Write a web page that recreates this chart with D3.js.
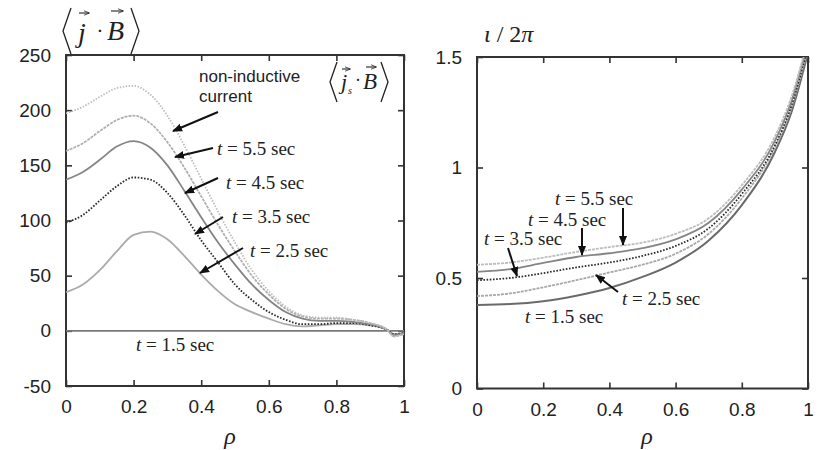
<!DOCTYPE html>
<html><head><meta charset="utf-8">
<script src="https://cdn.jsdelivr.net/npm/d3@7"></script>
<style>
body{margin:0;background:#fff;}
text{fill:#222;}
.tick text{font-family:"Liberation Sans",Arial,sans-serif;font-size:19px;}
.ser{font-family:"Liberation Serif","Times New Roman",serif;}
</style></head><body>
<svg id="c" width="827" height="450"></svg>
<script>
// ---------- data ----------
const rhoL = [0,0.05,0.1,0.15,0.2,0.25,0.3,0.35,0.4,0.45,0.5,0.55,0.6,0.65,0.7,0.75,0.8,0.85,0.9,0.95,0.97,1.0];
const jbNonInd = [197,203,212,220,222,214,195,168,138,108,80,55,36,22,14,12,12,10,7,1,-5,-3];
const jb55 = [163,170,181,191,195,188,171,148,122,96,72,50,33,20,13,11,11,10,7,1,-5,-3];
const jb45 = [137,144,155,167,172,166,150,127,103,80,60,42,28,17,11,9,9,8,6,1,-4,-2];
const jb35 = [98,105,118,131,139,137,125,105,82,62,42,28,17,10,6,6,7,7,5,1,-3,-2];
const jb25 = [35,42,55,72,87,90,83,68,51,36,24,17,11,6,4,5,6,6,5,1,-3,-2];
const jb15 = [0,0,0,0,0,0,0,0,0,0,0,0,0,0,0,0,0,0,0,0,0,0];

const rhoR = [0,0.1,0.2,0.3,0.4,0.5,0.6,0.7,0.8,0.9,0.95,1.0];
const iota15 = [0.378,0.382,0.395,0.42,0.455,0.505,0.57,0.67,0.83,1.07,1.25,1.52];
const iota25 = [0.418,0.43,0.458,0.49,0.525,0.56,0.61,0.70,0.86,1.09,1.27,1.54];
const iota35 = [0.49,0.50,0.522,0.548,0.57,0.60,0.645,0.725,0.88,1.10,1.28,1.55];
const iota45 = [0.528,0.54,0.568,0.595,0.612,0.635,0.675,0.75,0.90,1.12,1.30,1.57];
const iota55 = [0.56,0.57,0.592,0.618,0.64,0.66,0.70,0.77,0.92,1.14,1.32,1.58];

const xTicks = [0,0.2,0.4,0.6,0.8,1];
const yTicksL = [-50,0,50,100,150,200,250];
const yTicksR = [0,0.5,1,1.5];
const timeLabels = ["1.5","2.5","3.5","4.5","5.5"];

// ---------- drawing ----------
const svg = d3.select("#c");
svg.append("rect").attr("width",827).attr("height",450).attr("fill","#fff");
const plain = d => String(d);

function panel(x0,x1,y0,y1,yDom,yTicks,id){
  const x = d3.scaleLinear().domain([0,1]).range([x0,x1]);
  const y = d3.scaleLinear().domain(yDom).range([y1,y0]);
  const g = svg.append("g");
  svg.append("clipPath").attr("id",id).append("rect")
     .attr("x",x0).attr("y",y0).attr("width",x1-x0).attr("height",y1-y0);
  const ax = (gen,tx,ty)=>{
    const a = g.append("g").attr("transform",`translate(${tx},${ty})`).call(gen);
    a.select(".domain").remove();
    a.selectAll(".tick line").attr("stroke","#333").attr("stroke-width",1.6);
    return a;
  };
  ax(d3.axisBottom(x).tickValues(xTicks).tickSize(-6).tickPadding(14).tickFormat(plain),0,y1);
  ax(d3.axisTop(x).tickValues(xTicks).tickSize(-6).tickFormat(""),0,y0);
  ax(d3.axisLeft(y).tickValues(yTicks).tickSize(-6).tickPadding(15).tickFormat(plain),x0,0);
  ax(d3.axisRight(y).tickValues(yTicks).tickSize(-6).tickFormat(""),x1,0);
  g.selectAll(".tick text").attr("fill","#222");
  g.append("rect").attr("x",x0).attr("y",y0).attr("width",x1-x0).attr("height",y1-y0)
   .attr("fill","none").attr("stroke","#333").attr("stroke-width",2);
  return {x,y,g,clip:`url(#${id})`};
}

const L = panel(66,404,55,386,[-50,250],yTicksL,"clipL");
const R = panel(477,808,57,388.5,[0,1.5],yTicksR,"clipR");

function drawLine(P,xs,ys,color,dash,w){
  const line = d3.line().x(d=>P.x(d[0])).y(d=>P.y(d[1])).curve(d3.curveMonotoneX);
  svg.append("path").datum(xs.map((v,i)=>[v,ys[i]])).attr("d",line)
    .attr("fill","none").attr("stroke",color).attr("stroke-width",w||1.8)
    .attr("stroke-dasharray",dash||null).attr("clip-path",P.clip);
}
// left panel
drawLine(L,rhoL,jb15,"#7a7a7a",null,1.8);
drawLine(L,rhoL,jb25,"#ababab",null,1.8);
drawLine(L,rhoL,jb35,"#2a2a2a","1.6,1.6",1.8);
drawLine(L,rhoL,jb45,"#858585",null,1.8);
drawLine(L,rhoL,jb55,"#b0b0b0","3,1",1.8);
drawLine(L,rhoL,jbNonInd,"#bdbdbd","1.5,1.5",1.8);
// right panel
drawLine(R,rhoR,iota15,"#6a6a6a",null,2);
drawLine(R,rhoR,iota25,"#a8a8a8","3,1",1.8);
drawLine(R,rhoR,iota35,"#2a2a2a","1.6,1.6",1.8);
drawLine(R,rhoR,iota45,"#858585",null,1.8);
drawLine(R,rhoR,iota55,"#bdbdbd","3,1",1.8);

// arrows
const defs = svg.append("defs");
defs.append("marker").attr("id","ah").attr("viewBox","0 0 10 10").attr("refX",9).attr("refY",5)
  .attr("markerWidth",5).attr("markerHeight",5).attr("orient","auto")
  .append("path").attr("d","M0,1 L10,5 L0,9 z").attr("fill","#111");
defs.append("marker").attr("id","vh").attr("viewBox","0 0 10 10").attr("refX",9).attr("refY",5)
  .attr("markerWidth",5).attr("markerHeight",5).attr("orient","auto")
  .append("path").attr("d","M0,1 L10,5 L0,9").attr("fill","none").attr("stroke","#222").attr("stroke-width",1.4);
function arrow(x1,y1,x2,y2){
  svg.append("line").attr("x1",x1).attr("y1",y1).attr("x2",x2).attr("y2",y2)
    .attr("stroke","#111").attr("stroke-width",2).attr("marker-end","url(#ah)");
}
function vecArrow(x,y,w){
  svg.append("line").attr("x1",x).attr("y1",y).attr("x2",x+w).attr("y2",y)
    .attr("stroke","#222").attr("stroke-width",1.1).attr("marker-end","url(#vh)");
}
function tlabel(x,y,t){
  const tx = svg.append("text").attr("class","ser").attr("x",x).attr("y",y).attr("font-size",19);
  tx.append("tspan").attr("font-style","italic").text("t");
  tx.append("tspan").text(" = " + t + " sec");
}
// left annotations
arrow(218,112,173,131);
arrow(213,148,175,157);
arrow(218,178,185,193);
arrow(223,217,195,234);
arrow(243,248,200,273);
tlabel(217,155,timeLabels[4]);
tlabel(226,189,timeLabels[3]);
tlabel(232,223,timeLabels[2]);
tlabel(250,257,timeLabels[1]);
tlabel(136,351,timeLabels[0]);
svg.append("text").attr("x",199).attr("y",82).attr("font-family","Liberation Sans,Arial,sans-serif")
  .attr("font-size",17).text("non-inductive");
svg.append("text").attr("x",199).attr("y",102).attr("font-family","Liberation Sans,Arial,sans-serif")
  .attr("font-size",17).text("current");

// right annotations
arrow(623,208,623,245);
arrow(582,228,582,255);
arrow(508,248,517,276);
arrow(618,292,596,275);
tlabel(555,205,timeLabels[4]);
tlabel(528,226,timeLabels[3]);
tlabel(484,245,timeLabels[2]);
tlabel(622,305,timeLabels[1]);
tlabel(525,323,timeLabels[0]);

// brackets / titles
function bracket(x,yTop,yBot,dir,w){
  const ym=(yTop+yBot)/2;
  const p = dir<0 ? `M${x+w},${yTop} L${x},${ym} L${x+w},${yBot}` : `M${x},${yTop} L${x+w},${ym} L${x},${yBot}`;
  svg.append("path").attr("d",p).attr("fill","none").attr("stroke","#222").attr("stroke-width",1.3);
}
// left title <j . B>
bracket(63,8,54,-1,8);
bracket(131,8,54,1,8);
svg.append("text").attr("class","ser").attr("x",78).attr("y",42).attr("font-size",28).attr("font-style","italic").text("j");
vecArrow(79,13,10);
svg.append("text").attr("class","ser").attr("x",100).attr("y",38).attr("font-size",22).attr("text-anchor","middle").text("·");
svg.append("text").attr("class","ser").attr("x",107).attr("y",40).attr("font-size",28).attr("font-style","italic").text("B");
vecArrow(111,11,12);

// non-inductive <j_s . B>
bracket(330,62,102,-1,7);
bracket(381,62,102,1,7);
svg.append("text").attr("class","ser").attr("x",341).attr("y",89).attr("font-size",22).attr("font-style","italic").text("j");
svg.append("text").attr("class","ser").attr("x",348).attr("y",94).attr("font-size",10).attr("font-style","italic").text("s");
vecArrow(342,69,8);
svg.append("text").attr("class","ser").attr("x",358).attr("y",86).attr("font-size",18).attr("text-anchor","middle").text("·");
svg.append("text").attr("class","ser").attr("x",363).attr("y",89).attr("font-size",23).attr("font-style","italic").text("B");
vecArrow(366,67,10);

// right title
const rt = svg.append("text").attr("class","ser").attr("x",484).attr("y",42).attr("font-size",24);
rt.append("tspan").attr("font-style","italic").text("ι");
rt.append("tspan").text(" / 2");
rt.append("tspan").attr("font-style","italic").text("π");

// x labels
svg.append("text").attr("class","ser").attr("x",230).attr("y",444).attr("font-size",24)
  .attr("font-style","italic").attr("text-anchor","middle").text("ρ");
svg.append("text").attr("class","ser").attr("x",647).attr("y",444).attr("font-size",24)
  .attr("font-style","italic").attr("text-anchor","middle").text("ρ");
</script></body></html>
